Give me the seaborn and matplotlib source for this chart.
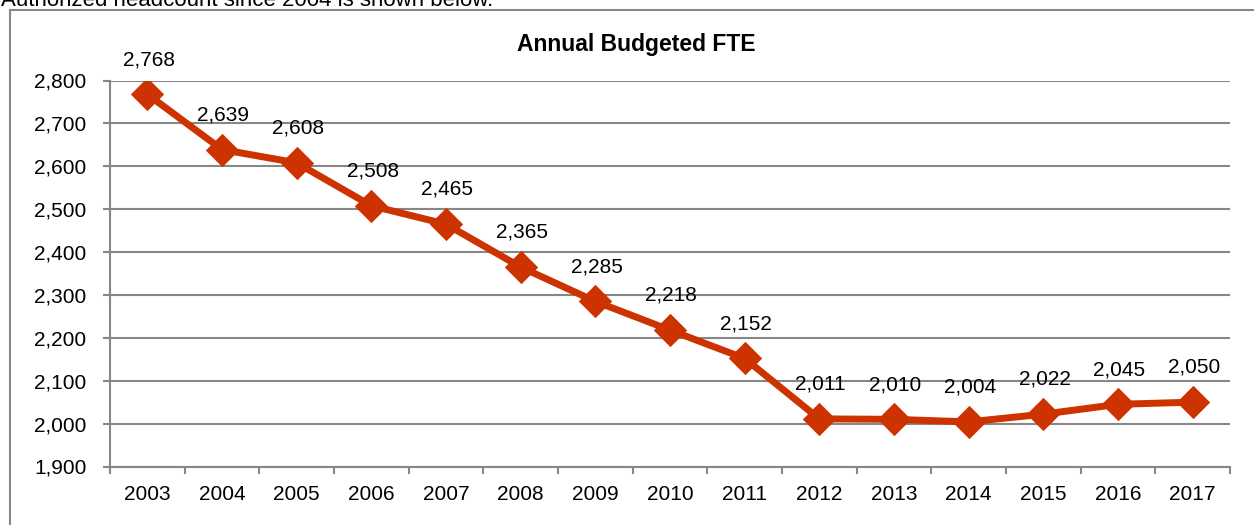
import matplotlib
matplotlib.use("Agg")
import matplotlib.pyplot as plt
from matplotlib.patches import Rectangle
from matplotlib.ticker import FuncFormatter, FixedLocator
import seaborn as sns
import pandas as pd

# Annual budgeted FTE by year
years = ["2003", "2004", "2005", "2006", "2007", "2008", "2009", "2010",
         "2011", "2012", "2013", "2014", "2015", "2016", "2017"]
fte = [2768, 2639, 2608, 2508, 2465, 2365, 2285, 2218,
       2152, 2011, 2010, 2004, 2022, 2045, 2050]
y_ticks = [1900, 2000, 2100, 2200, 2300, 2400, 2500, 2600, 2700, 2800]

title = "Annual Budgeted FTE"
intro = "Authorized headcount since 2004 is shown below."

sns.set_theme(style="white")
plt.rcParams["font.family"] = ["Liberation Sans", "DejaVu Sans"]
plt.rcParams["text.color"] = "black"

LINE = "#CC3300"
GRID = "#878787"

df = pd.DataFrame({"year": years, "fte": fte})

fig = plt.figure(figsize=(12.54, 5.25), dpi=100)
ax = fig.add_axes([110 / 1254, 1 - 466.5 / 525, (1230 - 110) / 1254, (466.5 - 80.5) / 525])

sns.pointplot(data=df, x="year", y="fte", order=years, ax=ax, color=LINE,
              markers="D", markersize=13, linewidth=5, errorbar=None)

ax.set_ylim(y_ticks[0], y_ticks[-1])
ax.set_xlim(-0.5, len(years) - 0.5)
ax.set_yticks(y_ticks)
ax.yaxis.set_major_formatter(FuncFormatter(lambda v, p: f"{int(v):,}"))
ax.grid(axis="y", color=GRID, linewidth=1.5)
ax.set_axisbelow(True)

# category labels at centres, tick marks at category boundaries
ax.xaxis.set_minor_locator(FixedLocator([i - 0.5 for i in range(len(years) + 1)]))
ax.tick_params(axis="x", which="major", length=0, pad=13, labelsize=15, colors="black")
ax.tick_params(axis="x", which="minor", length=5, width=1.5, color=GRID, direction="out", bottom=True)
ax.tick_params(axis="y", which="major", length=5, width=1.5, color=GRID, direction="out",
               left=True, pad=12, labelsize=15, labelcolor="black")
ax.set_xlabel("")
ax.set_ylabel("")

for side in ("top", "right"):
    ax.spines[side].set_visible(False)
for side in ("left", "bottom"):
    ax.spines[side].set_color(GRID)
    ax.spines[side].set_linewidth(1.5)

for i, v in enumerate(fte):
    ax.annotate(f"{v:,}", (i, v), xytext=(1, 25), textcoords="offset points",
                ha="center", va="center", fontsize=15, color="black")

fig.text(636 / 1254, 1 - 45 / 525, title, ha="center", va="center",
         fontsize=16.5, fontweight="bold", color="black")

# outer frame and the lead-in sentence above it
fig.patches.append(Rectangle((10 / 1254, -0.05), 1.2, 1 - 10 / 525 + 0.05,
                             transform=fig.transFigure, fill=False,
                             edgecolor=GRID, linewidth=1.5, zorder=0))
fig.text(1 / 1254, 1 - 6 / 525, intro, ha="left", va="baseline", fontsize=16, color="black")

fig.savefig("out.png", dpi=100)
